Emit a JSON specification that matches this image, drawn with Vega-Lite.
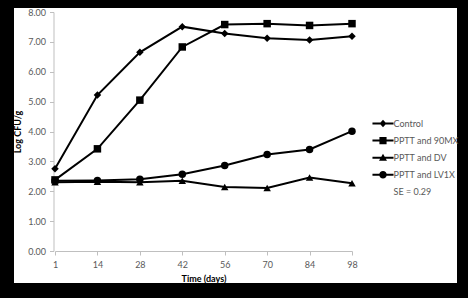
{
  "$schema": "https://vega.github.io/schema/vega-lite/v6.json",
  "width": 443,
  "height": 275,
  "autosize": {"type": "none"},
  "padding": {"left": 14, "top": 8, "right": 11, "bottom": 15},
  "background": "black",
  "config": {
    "view": {"fill": "white", "stroke": null},
    "font": "Lato",
    "axis": {
      "grid": false,
      "labelFont": "Lato",
      "labelFontSize": 9,
      "labelColor": "#595959",
      "domainColor": "#bfbfbf",
      "tickColor": "#bfbfbf",
      "titleFont": "Lato",
      "titleFontSize": 9,
      "titleFontWeight": "bold",
      "titleColor": "black"
    }
  },
  "data": {
    "values": [
      {"day": 1, "series": "Control", "v": 2.75},
      {"day": 14, "series": "Control", "v": 5.22},
      {"day": 28, "series": "Control", "v": 6.65},
      {"day": 42, "series": "Control", "v": 7.51},
      {"day": 56, "series": "Control", "v": 7.28},
      {"day": 70, "series": "Control", "v": 7.12},
      {"day": 84, "series": "Control", "v": 7.06},
      {"day": 98, "series": "Control", "v": 7.19},
      {"day": 1, "series": "PPTT and 90MX", "v": 2.38},
      {"day": 14, "series": "PPTT and 90MX", "v": 3.42},
      {"day": 28, "series": "PPTT and 90MX", "v": 5.05},
      {"day": 42, "series": "PPTT and 90MX", "v": 6.83},
      {"day": 56, "series": "PPTT and 90MX", "v": 7.58},
      {"day": 70, "series": "PPTT and 90MX", "v": 7.61},
      {"day": 84, "series": "PPTT and 90MX", "v": 7.55},
      {"day": 98, "series": "PPTT and 90MX", "v": 7.61},
      {"day": 1, "series": "PPTT and DV", "v": 2.3},
      {"day": 14, "series": "PPTT and DV", "v": 2.32},
      {"day": 28, "series": "PPTT and DV", "v": 2.3},
      {"day": 42, "series": "PPTT and DV", "v": 2.35},
      {"day": 56, "series": "PPTT and DV", "v": 2.14},
      {"day": 70, "series": "PPTT and DV", "v": 2.11},
      {"day": 84, "series": "PPTT and DV", "v": 2.46},
      {"day": 98, "series": "PPTT and DV", "v": 2.27},
      {"day": 1, "series": "PPTT and LV1X", "v": 2.35},
      {"day": 14, "series": "PPTT and LV1X", "v": 2.36},
      {"day": 28, "series": "PPTT and LV1X", "v": 2.4},
      {"day": 42, "series": "PPTT and LV1X", "v": 2.57},
      {"day": 56, "series": "PPTT and LV1X", "v": 2.86},
      {"day": 70, "series": "PPTT and LV1X", "v": 3.23},
      {"day": 84, "series": "PPTT and LV1X", "v": 3.4},
      {"day": 98, "series": "PPTT and LV1X", "v": 4.01}
    ]
  },
  "encoding": {
    "x": {
      "field": "day",
      "type": "ordinal",
      "sort": [1, 14, 28, 42, 56, 70, 84, 98],
      "scale": {"type": "point", "range": [41, 338], "padding": 0},
      "axis": {
        "title": "Time (days)",
        "labelAngle": 0,
        "offset": -32,
        "tickSize": 4,
        "labelPadding": 5,
        "titlePadding": 5
      }
    },
    "y": {
      "field": "v",
      "type": "quantitative",
      "scale": {"domain": [0, 8], "range": [243, 4], "nice": false, "zero": false},
      "axis": {
        "title": "Log CFU/g",
        "values": [0, 1, 2, 3, 4, 5, 6, 7, 8],
        "format": ".2f",
        "offset": -39.5,
        "tickSize": 4,
        "labelPadding": 4,
        "titlePadding": 5
      }
    }
  },
  "layer": [
    {
      "mark": {"type": "line", "color": "black", "strokeWidth": 2},
      "encoding": {"detail": {"field": "series"}}
    },
    {
      "mark": {"type": "point", "filled": true, "color": "black", "opacity": 1},
      "encoding": {
        "shape": {
          "field": "series",
          "type": "nominal",
          "scale": {
            "domain": ["Control", "PPTT and 90MX", "PPTT and DV", "PPTT and LV1X"],
            "range": ["diamond", "square", "triangle-up", "circle"]
          },
          "legend": null
        },
        "size": {
          "field": "series",
          "type": "nominal",
          "scale": {
            "domain": ["Control", "PPTT and 90MX", "PPTT and DV", "PPTT and LV1X"],
            "range": [56, 56, 60, 60]
          },
          "legend": null
        }
      }
    },
    {
      "transform": [{"filter": "datum.series == 'none'"}],
      "mark": {"type": "point", "filled": true, "color": "black", "opacity": 1, "size": 289},
      "encoding": {
        "shape": {
          "field": "series",
          "type": "nominal",
          "scale": {
            "domain": ["Control", "PPTT and 90MX", "PPTT and DV", "PPTT and LV1X", "SE = 0.29"],
            "range": [
              "M-1.24,-0.118L1.24,-0.118L1.24,0.118L-1.24,0.118Z M0,-0.43L0.4,0L0,0.43L-0.4,0Z",
              "M-1.24,-0.118L1.24,-0.118L1.24,0.118L-1.24,0.118Z M-0.42,-0.42L0.42,-0.42L0.42,0.42L-0.42,0.42Z",
              "M-1.24,-0.118L1.24,-0.118L1.24,0.118L-1.24,0.118Z M0,-0.47L0.47,0.36L-0.47,0.36Z",
              "M-1.24,-0.118L1.24,-0.118L1.24,0.118L-1.24,0.118Z M0.44,0A0.44,0.44,0,1,1,-0.44,0A0.44,0.44,0,1,1,0.44,0Z",
              "M0,0"
            ]
          },
          "legend": {
            "title": null,
            "orient": "none",
            "legendX": 360.5,
            "legendY": 107,
            "padding": 0,
            "symbolSize": 289,
            "symbolFillColor": "black",
            "symbolStrokeColor": "transparent",
            "symbolStrokeWidth": 0,
            "symbolOpacity": 1,
            "labelFont": "Lato",
            "labelFontSize": 9,
            "labelColor": "#595959",
            "labelOffset": 2,
            "rowPadding": 3.1,
            "labelLimit": 200,
            "encode": {
              "symbols": {
                "update": {
                  "fill": {"value": "black"},
                  "opacity": {"value": 1}
                }
              }
            }
          }
        }
      }
    }
  ],
  "resolve": {"scale": {"shape": "independent", "size": "independent"}, "legend": {"shape": "independent"}}
}
